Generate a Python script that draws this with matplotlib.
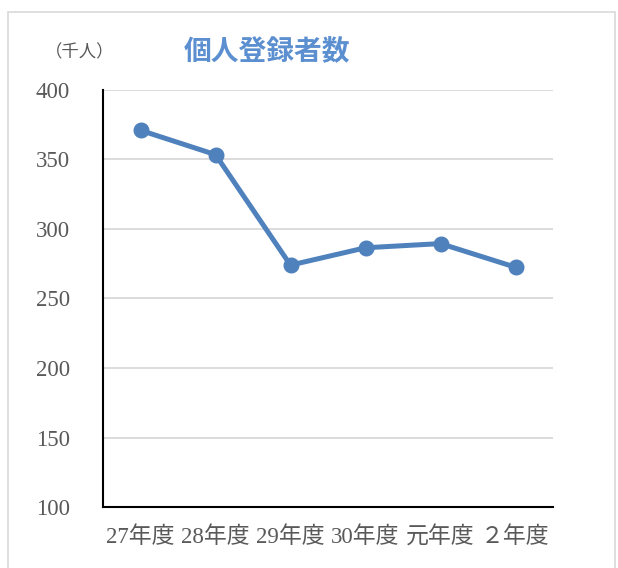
import matplotlib
matplotlib.use("Agg")
import matplotlib.pyplot as plt
from matplotlib.patches import Rectangle

categories = ["27年度", "28年度", "29年度", "30年度", "元年度", "２年度"]
values = [371, 353.5, 274, 286.5, 289.5, 272.5]
yticks = [100, 150, 200, 250, 300, 350, 400]
title = "個人登録者数"
unit = "（千人）"

W, H = 618, 568
fig = plt.figure(figsize=(W / 100, H / 100), dpi=100)
fig.patch.set_facecolor("white")

fig.patches.append(Rectangle((8 / W, -0.1), (615 - 8) / W, 1.1 - 12 / H,
                             transform=fig.transFigure, fill=False,
                             edgecolor="#D9D9D9", linewidth=1.2))

ax = fig.add_axes([103 / W, 1 - 507 / H, (553 - 103) / W, (507 - 90) / H])
x = list(range(len(categories)))
ax.plot(x, values, color="#4F81BD", linewidth=3.6, marker="o", markersize=10.5,
        solid_capstyle="round", zorder=3)
ax.set_xlim(-0.5, len(categories) - 0.5)
ax.set_ylim(100, 400)
ax.set_yticks(yticks)
ax.grid(axis="y", color="#D9D9D9", linewidth=1.3)
ax.set_axisbelow(True)
for s in ["top", "right"]:
    ax.spines[s].set_visible(False)
for s in ["left", "bottom"]:
    ax.spines[s].set_color("black")
    ax.spines[s].set_linewidth(1.5)
ax.tick_params(length=0)
ax.tick_params(axis="y", pad=24)
ax.tick_params(axis="x", pad=14)
ax.set_xticks(x)
ax.set_xticklabels(categories)
fam = ["Liberation Serif", "Noto Sans CJK JP"]
for lab in ax.get_yticklabels():
    lab.set_fontfamily(fam)
    lab.set_fontsize(16.5)
    lab.set_color("#595959")
for lab in ax.get_xticklabels():
    lab.set_fontfamily(fam)
    lab.set_fontsize(16.5)
    lab.set_color("#595959")

fig.text(267 / W, 1 - 52 / H, title, ha="center", va="center",
         fontsize=20, fontweight="bold", color="#5B8FD0",
         family=["Noto Sans CJK JP", "DejaVu Sans"])
fig.text(80 / W, 1 - 52 / H, unit, ha="center", va="center",
         fontsize=12.5, color="#595959",
         family=["Noto Sans CJK JP", "DejaVu Sans"])

fig.savefig("out.png", dpi=100)
